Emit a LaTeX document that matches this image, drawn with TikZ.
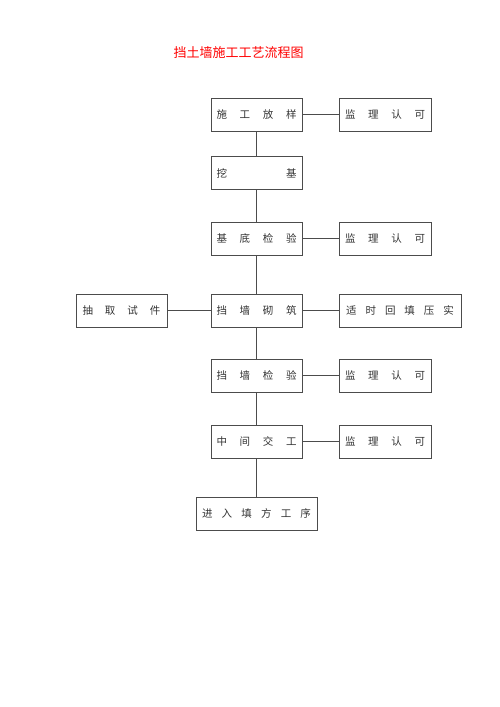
\documentclass[tikz,border=0pt]{standalone}
\usepackage{fontspec}
\newfontfamily\cjk{Noto Sans CJK SC}
\newcommand{\spread}[2]{\makebox[#1][s]{#2}}
\begin{document}
\begin{tikzpicture}[x=1pt,y=-1pt,
  box/.style={draw=black!70,line width=0.8pt,minimum height=33pt,inner sep=0pt,
    text=black!80,font=\cjk\fontsize{10.5}{12}\selectfont},
  link/.style={draw=black!70,line width=0.8pt}]
\useasboundingbox (0,0) rectangle (500,707);

\node[text=red,font=\cjk\fontsize{13}{15}\selectfont] (title) at (238.5,53) {挡土墙施工工艺流程图};

% glavni stupac
\node[box,minimum width=91pt] (fangyang) at (256.5,114.5) {\spread{80pt}{施\hfill 工\hfill 放\hfill 样}};
\node[box,minimum width=91pt] (waji) at (256.5,173) {\spread{80pt}{挖\hfill 基}};
\node[box,minimum width=91pt] (jidi) at (256.5,238.5) {\spread{80pt}{基\hfill 底\hfill 检\hfill 验}};
\node[box,minimum width=91pt] (qizhu) at (256.5,310.5) {\spread{80pt}{挡\hfill 墙\hfill 砌\hfill 筑}};
\node[box,minimum width=91pt] (jianyan) at (256.5,375.5) {\spread{80pt}{挡\hfill 墙\hfill 检\hfill 验}};
\node[box,minimum width=91pt] (jiaogong) at (256.5,441.5) {\spread{80pt}{中\hfill 间\hfill 交\hfill 工}};
\node[box,minimum width=121pt] (tianfang) at (256.5,513.5) {\spread{109pt}{进\hfill 入\hfill 填\hfill 方\hfill 工\hfill 序}};

% bocni cvorovi
\node[box,minimum width=92pt] (jianli1) at (385,114.5) {\spread{80pt}{监\hfill 理\hfill 认\hfill 可}};
\node[box,minimum width=92pt] (jianli2) at (385,238.5) {\spread{80pt}{监\hfill 理\hfill 认\hfill 可}};
\node[box,minimum width=122pt] (huitian) at (400,310.5) {\spread{108pt}{适\hfill 时\hfill 回\hfill 填\hfill 压\hfill 实}};
\node[box,minimum width=91pt] (shijian) at (121.5,310.5) {\spread{78pt}{抽\hfill 取\hfill 试\hfill 件}};
\node[box,minimum width=92pt] (jianli3) at (385,375.5) {\spread{80pt}{监\hfill 理\hfill 认\hfill 可}};
\node[box,minimum width=92pt] (jianli4) at (385,441.5) {\spread{80pt}{监\hfill 理\hfill 认\hfill 可}};

\draw[link] (fangyang) -- (waji);
\draw[link] (waji) -- (jidi);
\draw[link] (jidi) -- (qizhu);
\draw[link] (qizhu) -- (jianyan);
\draw[link] (jianyan) -- (jiaogong);
\draw[link] (jiaogong) -- (tianfang);

\draw[link] (fangyang) -- (jianli1);
\draw[link] (jidi) -- (jianli2);
\draw[link] (qizhu) -- (huitian);
\draw[link] (shijian) -- (qizhu);
\draw[link] (jianyan) -- (jianli3);
\draw[link] (jiaogong) -- (jianli4);
\end{tikzpicture}
\end{document}
